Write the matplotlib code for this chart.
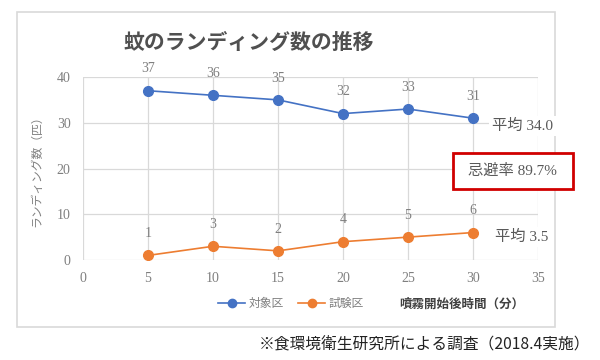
import matplotlib.pyplot as plt
from matplotlib.patches import Rectangle
from matplotlib.lines import Line2D

plt.rcParams['font.family'] = ['Liberation Serif', 'Noto Sans CJK JP']

minutes = [5, 10, 15, 20, 25, 30]
control = [37, 36, 35, 32, 33, 31]
treated = [1, 3, 2, 4, 5, 6]
control_avg = "平均 34.0"
treated_avg = "平均 3.5"
repel_rate = "忌避率 89.7%"

blue = '#4472C4'
orange = '#ED7D31'
gray = '#7f7f7f'
grid = '#d9d9d9'

fig = plt.figure(figsize=(6, 3.6), dpi=100)
W, H = 600, 360

def fx(px):
    return px / W

def fy(py):
    return 1 - py / H

# chart frame
fig.patches.append(Rectangle((fx(17), fy(327)), fx(555) - fx(17), fy(12) - fy(327),
                             transform=fig.transFigure, fill=False, ec='#d9d9d9', lw=1.2))

ax = fig.add_axes([fx(83), fy(260), fx(538) - fx(83), fy(77) - fy(260)])
ax.plot(minutes, control, color=blue, marker='o', ms=7, lw=1.2)
ax.plot(minutes, treated, color=orange, marker='o', ms=7, lw=1.2)
for x, y in zip(minutes, control):
    ax.annotate(str(y), (x, y), xytext=(0, 11), textcoords='offset points',
                ha='center', va='bottom', color=gray, fontsize=10)
for x, y in zip(minutes, treated):
    ax.annotate(str(y), (x, y), xytext=(0, 11), textcoords='offset points',
                ha='center', va='bottom', color=gray, fontsize=10)

ax.set_xlim(0, 35)
ax.set_ylim(0, 40)
ax.set_xticks(range(0, 36, 5))
ax.set_yticks(range(0, 41, 10))
ax.grid(True, color=grid, lw=0.9)
ax.set_axisbelow(True)
for s in ax.spines.values():
    s.set_visible(False)
ax.tick_params(length=0, colors=gray, labelsize=10, pad=9)
ax.set_ylabel('ランディング数（匹）', color=gray, fontsize=8.5,
              family=['Noto Sans CJK JP'], labelpad=10)

fig.text(fx(249), fy(42), '蚊のランディング数の推移', ha='center', va='center',
         fontsize=15, color='#505050', family=['Noto Sans CJK JP'], fontweight='bold')

# average labels
fig.text(fx(492), fy(126), control_avg, ha='left', va='center', fontsize=11, color='#595959',
         bbox=dict(fc='white', ec='none', pad=2))
fig.text(fx(495), fy(237), treated_avg, ha='left', va='center', fontsize=11, color='#595959',
         bbox=dict(fc='white', ec='none', pad=2))
fig.patches.append(Rectangle((fx(453), fy(189)), fx(573) - fx(453), fy(153) - fy(189),
                             transform=fig.transFigure, fc='white', ec='#d00000', lw=2))
fig.text(fx(512), fy(171), repel_rate, ha='center', va='center', fontsize=11, color='#595959')

# legend + axis label
handles = [Line2D([], [], color=blue, marker='o', ms=6, lw=1.2),
           Line2D([], [], color=orange, marker='o', ms=6, lw=1.2)]
fig.legend(handles, ['対象区', '試験区'], loc='center', bbox_to_anchor=(fx(291), fy(304)),
           ncol=2, frameon=False, fontsize=8.5, labelcolor=gray, handlelength=2.3,
           columnspacing=1.2, handletextpad=0.3)
fig.text(fx(462), fy(304), '噴霧開始後時間（分）', ha='center', va='center', fontsize=9,
         color='#404040', family=['Noto Sans CJK JP'], fontweight='bold')

fig.text(fx(590), fy(345), '※食環境衛生研究所による調査（2018.4実施）', ha='right', va='center',
         fontsize=11.3, color='#222222', family=['Noto Sans CJK JP'])

fig.savefig('out.png', dpi=100, facecolor='white')
